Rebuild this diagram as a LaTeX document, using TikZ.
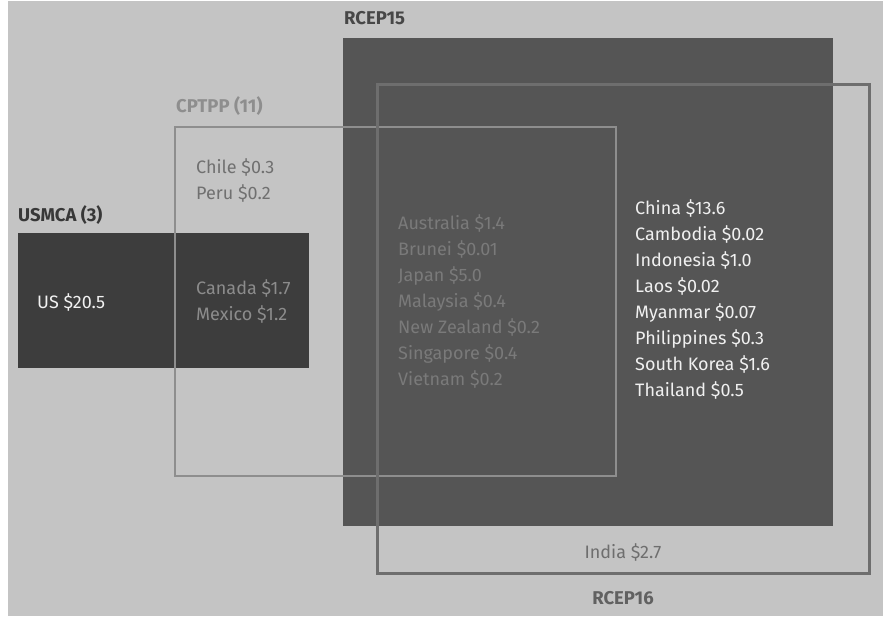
\documentclass[tikz,border=0pt]{standalone}
\usepackage{fontspec}
\setmainfont{Fira Sans}
\definecolor{bgc}{HTML}{C4C4C4}
\definecolor{usfill}{HTML}{3D3D3D}
\definecolor{rcfill}{HTML}{555555}
\definecolor{cpline}{HTML}{8E8E8E}
\definecolor{rc16line}{HTML}{6E6E6E}
\begin{document}
\begin{tikzpicture}[x=1pt,y=-1pt,
  lbl/.style={font=\fontsize{18}{26}\selectfont,inner sep=0pt,align=left},
  ttl/.style={font=\fontsize{18.5}{22}\selectfont\bfseries,inner sep=0pt}]
\useasboundingbox (0,0) rectangle (883,616);
\fill[white] (0,0) rectangle (883,616);
\fill[bgc] (8,1) rectangle (883,616);
% boxes
\fill[usfill] (18,233) rectangle (309,368);
\fill[rcfill] (343,38) rectangle (833,526);
\draw[cpline,line width=2pt] (175,127) rectangle (616,476);
\draw[rc16line,line width=3pt] (377,84) rectangle (869,573);
% titles
\node[ttl,anchor=west,text=black!72] (rcep15) at (344,18) {RCEP15};
\node[ttl,anchor=west,text=cpline] (cptpp) at (176,106) {CPTPP (11)};
\node[ttl,anchor=west,text=black!78] (usmca) at (18,215) {USMCA (3)};
\node[ttl,anchor=center,text=black!62] (rcep16) at (623,598) {RCEP16};
% texts
\node[lbl,anchor=west,text=black!56] (chile) at (196,180) {Chile \$0.3\\Peru \$0.2};
\node[lbl,anchor=west,text=black!5] (us) at (37,302) {US \$20.5};
\node[lbl,anchor=west,text=black!45] (canada) at (196,301.5) {Canada \$1.7\\Mexico \$1.2};
\node[lbl,anchor=west,text=black!52] (aus) at (398,301) {Australia \$1.4\\Brunei \$0.01\\Japan \$5.0\\Malaysia \$0.4\\New Zealand \$0.2\\Singapore \$0.4\\Vietnam \$0.2};
\node[lbl,anchor=west,text=black!6] (china) at (635,299) {China \$13.6\\Cambodia \$0.02\\Indonesia \$1.0\\Laos \$0.02\\Myanmar \$0.07\\Philippines \$0.3\\South Korea \$1.6\\Thailand \$0.5};
\node[lbl,anchor=center,text=black!57] (india) at (623,552) {India \$2.7};
\end{tikzpicture}
\end{document}
